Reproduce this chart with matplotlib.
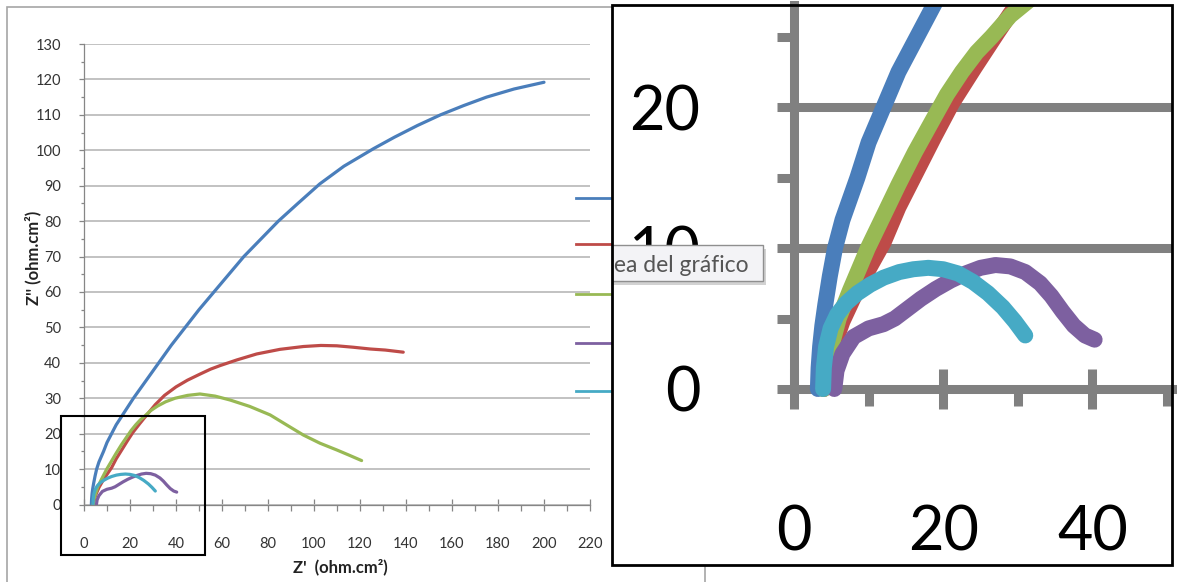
import matplotlib
matplotlib.use("Agg")
import matplotlib.pyplot as plt
from matplotlib.patches import Rectangle
from matplotlib.lines import Line2D
from matplotlib.ticker import MultipleLocator, FixedLocator

plt.rcParams['font.family'] = ['Lato', 'DejaVu Sans']

# Nyquist data, Z' vs Z'' (ohm.cm2)
blue_x = [3.2, 3.3, 3.5, 3.8, 4.2, 4.8, 5.5, 6.5, 7.5, 8.5, 10, 12, 14, 16.5, 19, 21.5, 27,
          32.5, 38, 44, 50, 56.5, 63, 69.5, 77, 84.5, 93, 102.5, 113, 126, 135, 145, 155,
          165, 175, 187, 200]
blue_y = [0, 1.5, 3, 4.5, 6, 8, 10, 12, 13.5, 15, 17.5, 20, 22.5, 25, 27.5, 30, 35,
          40, 45, 50, 55, 60, 65, 70, 75, 80, 85, 90.5, 95.5, 100.5, 103.7, 107, 110,
          112.6, 115, 117.3, 119.2]

red_x = [4, 4.5, 5.3, 6.5, 8, 10, 12, 14, 16.4, 18.8, 21.2, 24.2, 27.3, 31, 35, 40, 45,
         50.4, 55, 59.1, 66.4, 75.1, 85.2, 95.4, 103, 109.9, 117, 124.4, 131, 138.8]
red_y = [0, 1.5, 3, 4.8, 6.5, 8.5, 10.4, 12.9, 15.4, 17.9, 20.3, 22.8, 25.3, 28.2, 30.8,
         33.2, 35.1, 36.8, 38.2, 39.2, 40.8, 42.5, 43.8, 44.6, 44.9, 44.8, 44.4, 43.9, 43.6,
         43.0]

green_x = [4, 4.4, 5, 6, 7.5, 8.7, 9.9, 12, 14, 16.2, 18.5, 20.5, 22.5, 24.5, 26.5, 29, 32,
           35.5, 39.6, 45, 50.4, 57, 63.5, 72, 80.9, 88, 95.4, 102.6, 109.9, 115, 120.7]
green_y = [0, 1.5, 3, 5, 7, 8.5, 10, 12.3, 14.5, 16.8, 19, 20.9, 22.5, 23.9, 25, 26.5, 27.8,
           29, 30, 30.8, 31.2, 30.6, 29.5, 27.7, 25.3, 22.5, 19.6, 17.3, 15.4, 14, 12.4]

purple_x = [5.4, 5.7, 6.5, 8, 10, 12, 13.5, 15, 17, 19, 21, 23, 25, 27, 29, 31, 33, 34.5,
            36, 37.5, 39, 40.3]
purple_y = [0, 1.3, 2.5, 3.7, 4.3, 4.6, 5.0, 5.6, 6.4, 7.1, 7.7, 8.2, 8.6, 8.8, 8.7, 8.3,
            7.5, 6.6, 5.5, 4.5, 3.8, 3.5]

cyan_x = [3.9, 4.0, 4.3, 4.9, 5.8, 7, 8.5, 10.2, 12, 14.1, 16, 18, 20, 22, 24, 26, 28,
          29.6, 31]
cyan_y = [0, 1.5, 3, 4.3, 5.3, 6.1, 6.8, 7.4, 7.9, 8.3, 8.5, 8.6, 8.5, 8.2, 7.6, 6.8, 5.8,
          4.8, 3.8]

series = [(blue_x, blue_y), (red_x, red_y), (green_x, green_y),
          (purple_x, purple_y), (cyan_x, cyan_y)]
colors = ["#4a7ebb", "#be4b48", "#98b954", "#7d60a0", "#46aac5"]

W, H = 1177, 582
fig = plt.figure(figsize=(W / 100, H / 100), dpi=100)


def fbox(x0, y0, x1, y1):
    # pixel box (top-left origin) -> figure fraction rect
    return [x0 / W, 1 - y1 / H, (x1 - x0) / W, (y1 - y0) / H]


# outer chart frame
fig.add_artist(Rectangle((7 / W, 1 - 600 / H), 698 / W, 593 / H, transform=fig.transFigure,
                         fill=False, ec="#a6a6a6", lw=1.2, zorder=-1))

# ---- main chart ----
ax = fig.add_axes(fbox(84, 44, 590, 504.5))
for (x, y), c in zip(series, colors):
    ax.plot(x, y, color=c, lw=2.3, solid_capstyle="round", solid_joinstyle="round")
ax.set_xlim(0, 220)
ax.set_ylim(0, 130)
ax.xaxis.set_major_locator(MultipleLocator(20))
ax.xaxis.set_minor_locator(MultipleLocator(10))
ax.yaxis.set_major_locator(MultipleLocator(10))
ax.yaxis.set_minor_locator(MultipleLocator(5))
ax.grid(axis="y", which="major", color="#bdbdbd", lw=1.3)
ax.set_axisbelow(True)
for s in ["top", "right"]:
    ax.spines[s].set_visible(False)
for s in ["left", "bottom"]:
    ax.spines[s].set_color("#868686")
    ax.spines[s].set_linewidth(0.9)
ax.tick_params(axis="x", which="major", direction="inout", length=8.6, width=0.9,
               color="#868686", pad=19, labelsize=10.5, labelcolor="#333333")
ax.tick_params(axis="x", which="minor", direction="out", length=4.3, width=0.9, color="#868686")
ax.tick_params(axis="y", which="major", direction="out", length=3.6, width=0.9,
               color="#868686", pad=13, labelsize=10.5, labelcolor="#333333")
ax.tick_params(axis="y", which="minor", direction="out", length=2.5, width=0.9, color="#868686")
ax.set_xlabel("Z'  (ohm.cm²)", fontsize=12, fontweight="bold", color="#222222")
ax.set_ylabel("Z'' (ohm.cm²)", fontsize=12, fontweight="bold", color="#222222")
ax.xaxis.set_label_coords((340 - 84) / 506, (504.5 - 559) / 460.5)
ax.yaxis.set_label_coords((41 - 84) / 506, (504.5 - 258) / 460.5)

# legend keys (labels hidden behind the zoom panel)
for c, ly in zip(colors, [198, 244, 294, 343, 391]):
    fig.add_artist(Line2D([576 / W, 612 / W], [1 - ly / H] * 2, color=c, lw=2,
                          transform=fig.transFigure))

# zoom marker box
fig.add_artist(Rectangle((61 / W, 1 - 555 / H), 144 / W, 139 / H, transform=fig.transFigure,
                         fill=False, ec="black", lw=1.5, zorder=5))

# ---- zoomed panel ----
ax2 = fig.add_axes(fbox(612, 5, 1172, 565), zorder=10)
ax2.set_facecolor("white")
for (x, y), c in zip(series, colors):
    ax2.plot(x, y, color=c, lw=11.5, solid_capstyle="round", solid_joinstyle="round", zorder=3)
x0, x1 = -(794 - 612) / 7.46, (1172 - 794) / 7.46
y0, y1 = -(565 - 389) / 14.09, (389 - 5) / 14.09
ax2.set_xlim(x0, x1)
ax2.set_ylim(y0, y1)
ax2.spines["top"].set_visible(False)
ax2.spines["right"].set_visible(False)
ax2.spines["left"].set_position(("data", 0))
ax2.spines["bottom"].set_position(("data", 0))
ax2.spines["left"].set_bounds(0, y1)
ax2.spines["bottom"].set_bounds(0, x1)
for s in ["left", "bottom"]:
    ax2.spines[s].set_color("#808080")
    ax2.spines[s].set_linewidth(6.5)
    ax2.spines[s].set_zorder(2)
ax2.xaxis.set_major_locator(FixedLocator([0, 20, 40]))
ax2.xaxis.set_minor_locator(FixedLocator([10, 30, 50]))
ax2.yaxis.set_major_locator(FixedLocator([0, 10, 20]))
ax2.yaxis.set_minor_locator(FixedLocator([5, 15, 25]))
yt = [10, 20]
ax2.hlines(yt, 0, x1, color="#808080", lw=6.5, zorder=1)
ax2.tick_params(axis="x", which="major", direction="inout", length=29, width=6.5,
                color="#808080", pad=69, labelsize=44, labelcolor="black")
ax2.tick_params(axis="x", which="minor", direction="out", length=12.5, width=6.5, color="#808080")
ax2.tick_params(axis="y", which="major", direction="out", length=12.5, width=6.5,
                color="#808080", pad=55, labelsize=44, labelcolor="black")
ax2.tick_params(axis="y", which="minor", direction="out", length=12.5, width=6.5, color="#808080")
ax2.add_patch(Rectangle((0, 0), 1, 1, transform=ax2.transAxes, fill=False, ec="black",
                        lw=2, clip_on=False, zorder=20))

# Excel tooltip caught in the screenshot
ax2.add_patch(Rectangle(((606 - 612) / 560, (565 - 285) / 560), (766 - 606) / 560, 36 / 560,
                        transform=ax2.transAxes, fc="#b5b5b5", ec="none", alpha=0.6, zorder=15))
ax2.add_patch(Rectangle(((590 - 612) / 560, (565 - 281) / 560), (763 - 590) / 560, 36 / 560,
                        transform=ax2.transAxes, fc="#f3f3f6", ec="#8f8f8f", lw=1, zorder=16))
ax2.text((749 - 612) / 560, (565 - 263) / 560, "Área del gráfico", transform=ax2.transAxes,
         ha="right", va="center", fontsize=16.5, color="#555555", zorder=17, clip_on=True)

fig.savefig("out.png", dpi=100)
